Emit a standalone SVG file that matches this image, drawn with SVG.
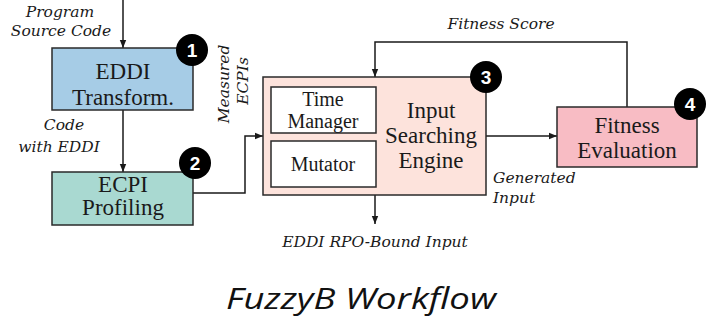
<svg xmlns="http://www.w3.org/2000/svg" width="708" height="322" viewBox="0 0 708 322">
  <style>
    .box { stroke: #2a2a2a; stroke-width: 1.5; }
    .inner { fill: #ffffff; stroke: #2a2a2a; stroke-width: 1.5; }
    .big { font-family: "Liberation Serif", "DejaVu Serif", serif; font-size: 23px; fill: #1a1a1a; text-anchor: middle; }
    .mid { font-family: "Liberation Serif", "DejaVu Serif", serif; font-size: 20px; fill: #1a1a1a; text-anchor: middle; }
    .lbl { font-family: "DejaVu Serif", "Liberation Serif", serif; font-style: italic; font-size: 15.5px; fill: #1a1a1a; }
    .num { font-family: "Liberation Sans", Arial, sans-serif; font-weight: bold; font-size: 19px; fill: #ffffff; text-anchor: middle; }
    .badge { fill: #000000; }
    .wire { fill: none; stroke: #1a1a1a; stroke-width: 1.5; }
    .title { font-family: "Open Sans", "Noto Sans", sans-serif; font-style: italic; font-size: 30px; fill: #111111; text-anchor: middle; }
  </style>
  <defs>
    <marker id="arrow" viewBox="0 0 10 10" refX="10" refY="5" markerWidth="8" markerHeight="8" markerUnits="userSpaceOnUse" orient="auto">
      <path d="M0,1 L10,5 L0,9 Z" fill="#1a1a1a"/>
    </marker>
  </defs>

  <rect width="708" height="322" fill="#ffffff"/>

  <!-- connectors -->
  <g id="connectors">
    <path class="wire" d="M123,0 V48" marker-end="url(#arrow)"/>
    <path class="wire" d="M123,110 V172" marker-end="url(#arrow)"/>
    <path class="wire" d="M193,193 H245 V136 H263" marker-end="url(#arrow)"/>
    <path class="wire" d="M486,136 H557" marker-end="url(#arrow)"/>
    <path class="wire" d="M627,107 V42 H375 V77" marker-end="url(#arrow)"/>
    <path class="wire" d="M375,195 V224" marker-end="url(#arrow)"/>
  </g>

  <!-- edge labels -->
  <g id="labels">
    <text class="lbl" x="60" y="17" text-anchor="middle">Program</text>
    <text class="lbl" x="61" y="36" text-anchor="middle">Source Code</text>
    <text class="lbl" x="64" y="130" text-anchor="middle">Code</text>
    <text class="lbl" x="59" y="152" text-anchor="middle">with EDDI</text>
    <text class="lbl" transform="translate(229,84) rotate(-90)" text-anchor="middle">Measured</text>
    <text class="lbl" transform="translate(248,81) rotate(-90)" text-anchor="middle">ECPIs</text>
    <text class="lbl" x="501" y="29" text-anchor="middle">Fitness Score</text>
    <text class="lbl" x="493" y="183">Generated</text>
    <text class="lbl" x="493" y="203">Input</text>
    <text class="lbl" x="375" y="247" text-anchor="middle">EDDI RPO-Bound Input</text>
  </g>

  <!-- step 1 -->
  <g id="eddi-transform">
    <rect class="box" x="52" y="48" width="141" height="62" fill="#a6cce6"/>
    <text class="big" x="123" y="79">EDDI</text>
    <text class="big" x="123" y="105">Transform.</text>
    <circle class="badge" cx="192" cy="50" r="16"/>
    <text class="num" x="192" y="57">1</text>
  </g>

  <!-- step 2 -->
  <g id="ecpi-profiling">
    <rect class="box" x="52" y="172" width="141" height="53" fill="#a9d9d1"/>
    <text class="big" x="123" y="192">ECPI</text>
    <text class="big" x="123" y="215">Profiling</text>
    <circle class="badge" cx="195" cy="163" r="16"/>
    <text class="num" x="195" y="170">2</text>
  </g>

  <!-- step 3 -->
  <g id="input-searching-engine">
    <rect class="box" x="263" y="77" width="223" height="118" fill="#fde3dc"/>
    <rect class="inner" x="271" y="87" width="105" height="46"/>
    <text class="mid" x="323" y="106">Time</text>
    <text class="mid" x="323" y="128">Manager</text>
    <rect class="inner" x="271" y="141" width="105" height="46"/>
    <text class="mid" x="323" y="171">Mutator</text>
    <text class="big" x="431" y="118">Input</text>
    <text class="big" x="431" y="143">Searching</text>
    <text class="big" x="431" y="168">Engine</text>
    <circle class="badge" cx="486" cy="77" r="16"/>
    <text class="num" x="486" y="84">3</text>
  </g>

  <!-- step 4 -->
  <g id="fitness-evaluation">
    <rect class="box" x="557" y="107" width="140" height="60" fill="#f8bcc4"/>
    <text class="big" x="627" y="133">Fitness</text>
    <text class="big" x="627" y="158">Evaluation</text>
    <circle class="badge" cx="690" cy="104" r="16"/>
    <text class="num" x="690" y="111">4</text>
  </g>

  <text class="title" x="361" y="309" textLength="270" lengthAdjust="spacingAndGlyphs">FuzzyB Workflow</text>
</svg>
